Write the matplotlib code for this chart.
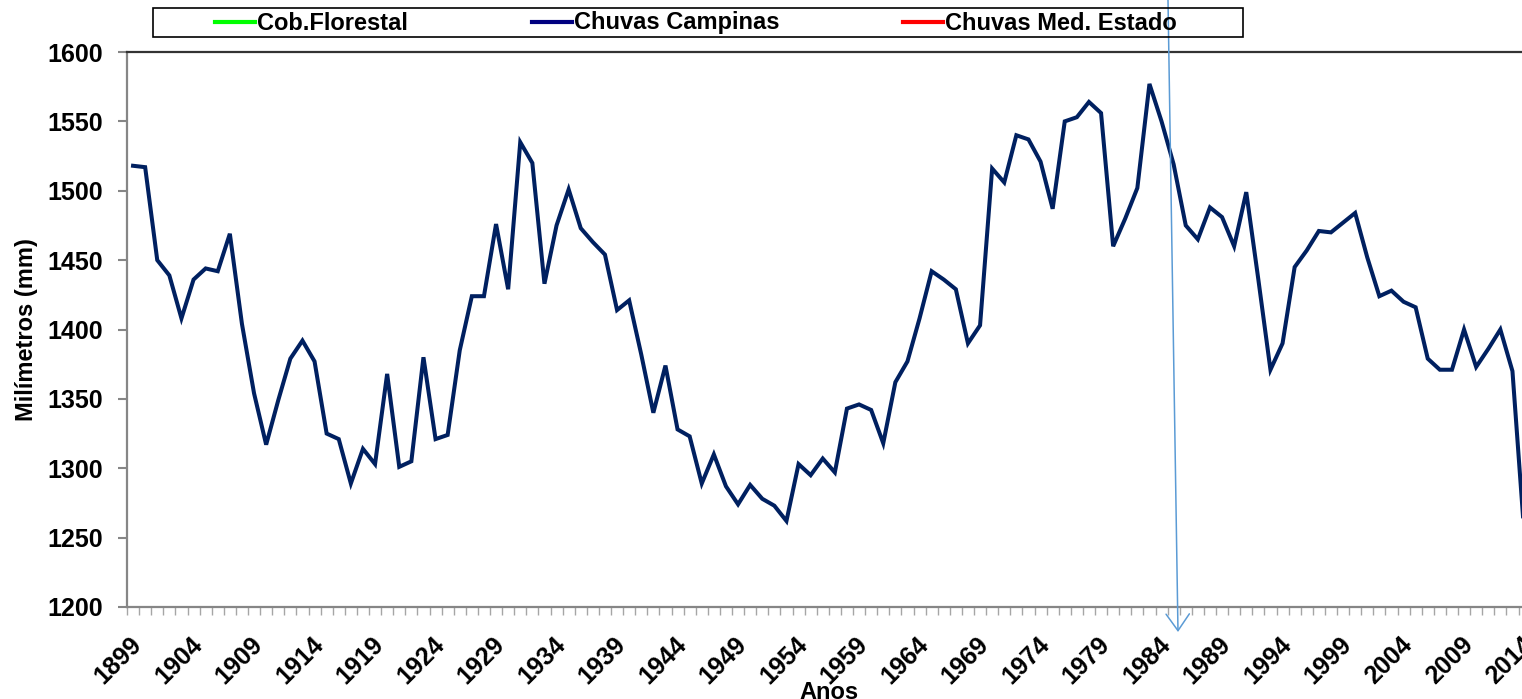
import matplotlib
matplotlib.use("Agg")
import matplotlib.pyplot as plt
from matplotlib.lines import Line2D
from matplotlib.patches import Rectangle
import matplotlib.transforms as mtransforms

# --- data ---
years = list(range(1899, 2015))
chuvas_campinas = [
    1518, 1517, 1450, 1439, 1408, 1436, 1444, 1442, 1469, 1404,
    1354, 1317, 1349, 1379, 1392, 1377, 1325, 1321, 1289, 1314,
    1303, 1368, 1301, 1305, 1380, 1321, 1324, 1385, 1424, 1424,
    1476, 1429, 1535, 1520, 1433, 1475, 1501, 1473, 1463, 1454,
    1414, 1421, 1382, 1340, 1374, 1328, 1323, 1289, 1310, 1287,
    1274, 1288, 1278, 1273, 1262, 1303, 1295, 1307, 1297, 1343,
    1346, 1342, 1318, 1362, 1377, 1408, 1442, 1436, 1429, 1390,
    1403, 1516, 1506, 1540, 1537, 1521, 1487, 1550, 1553, 1564,
    1556, 1460, 1480, 1502, 1577, 1550, 1519, 1475, 1465, 1488,
    1481, 1460, 1499, 1436, 1371, 1390, 1445, 1457, 1471, 1470,
    1477, 1484, 1452, 1424, 1428, 1420, 1416, 1379, 1371, 1371,
    1400, 1373, 1386, 1400, 1370, 1250,
]
year_labels = years[::5]
y_ticks = list(range(1200, 1601, 50))

legend_labels = ["Cob.Florestal", "Chuvas Campinas", "Chuvas Med. Estado"]
legend_colors = ["#00FF00", "#000080", "#FF0000"]

# --- figure ---
W, H = 1522, 699
plt.rcParams["font.family"] = ["Liberation Sans", "DejaVu Sans"]
fig = plt.figure(figsize=(W / 100, H / 100), dpi=100)

step = 12.1
ax = fig.add_axes([127 / W, (H - 607) / H, 116 * step / W, 555 / H])

ax.plot(years, chuvas_campinas, color="#002060", lw=2.9, solid_joinstyle="miter",
        clip_on=False)

ax.set_xlim(years[0] - 0.5, years[-1] + 0.5)
ax.set_ylim(1200, 1600)

ax.set_yticks(y_ticks)
ax.set_yticklabels([str(v) for v in y_ticks], fontsize=18, fontweight="bold")
ax.tick_params(axis="y", direction="out", length=6.5, width=1.5, color="#868686", pad=11)

ax.set_xticks(year_labels)
ax.set_xticklabels([str(y) for y in year_labels], fontsize=18, fontweight="bold",
                   rotation=45, ha="right", va="center", rotation_mode="anchor")
ax.set_xticks([y - 0.5 for y in years] + [years[-1] + 0.5], minor=True)
ax.tick_params(axis="x", which="major", length=0, pad=24)
ax.tick_params(axis="x", which="minor", direction="out", length=5.5, width=1, color="#A6A6A6")
shift = mtransforms.ScaledTranslation(5 / 100, 0, fig.dpi_scale_trans)
for lbl in ax.get_xticklabels():
    lbl.set_transform(lbl.get_transform() + shift)

for side in ["left", "bottom"]:
    ax.spines[side].set_color("#868686")
    ax.spines[side].set_linewidth(1.6)
ax.spines["top"].set_color("#333333")
ax.spines["top"].set_linewidth(1.6)
ax.spines["right"].set_visible(False)

ax.set_ylabel("Milímetros (mm)", fontsize=17, fontweight="bold")
ax.yaxis.set_label_coords(-0.0634, 0.5)
ax.set_xlabel("Anos", fontsize=17, fontweight="bold")
ax.xaxis.set_label_coords(0.5, -0.134)

# --- legend box drawn at the top ---
fig.patches.append(Rectangle((153 / W, 1 - 37 / H), (1243 - 153) / W, 29 / H,
                             transform=fig.transFigure, fill=False,
                             edgecolor="black", lw=1.2))
entry_x = [215, 532, 903]
for x0, lab, col in zip(entry_x, legend_labels, legend_colors):
    fig.add_artist(Line2D([x0 / W, (x0 + 40) / W], [1 - 22 / H, 1 - 22 / H],
                          transform=fig.transFigure, color=col, lw=3))
    fig.text((x0 + 42) / W, 1 - 23 / H, lab, fontsize=17, fontweight="bold",
             ha="left", va="center")

# --- thin light-blue arrow ---
ax.annotate("", xy=(1178 / W, 1 - 632 / H), xytext=(1168 / W, 1.0),
            xycoords="figure fraction", textcoords="figure fraction",
            arrowprops=dict(arrowstyle="->,head_length=0.5,head_width=0.35",
                            color="#5B9BD5", lw=1.1, mutation_scale=24,
                            shrinkA=0, shrinkB=0),
            annotation_clip=False)

fig.savefig("out.png", dpi=100)
